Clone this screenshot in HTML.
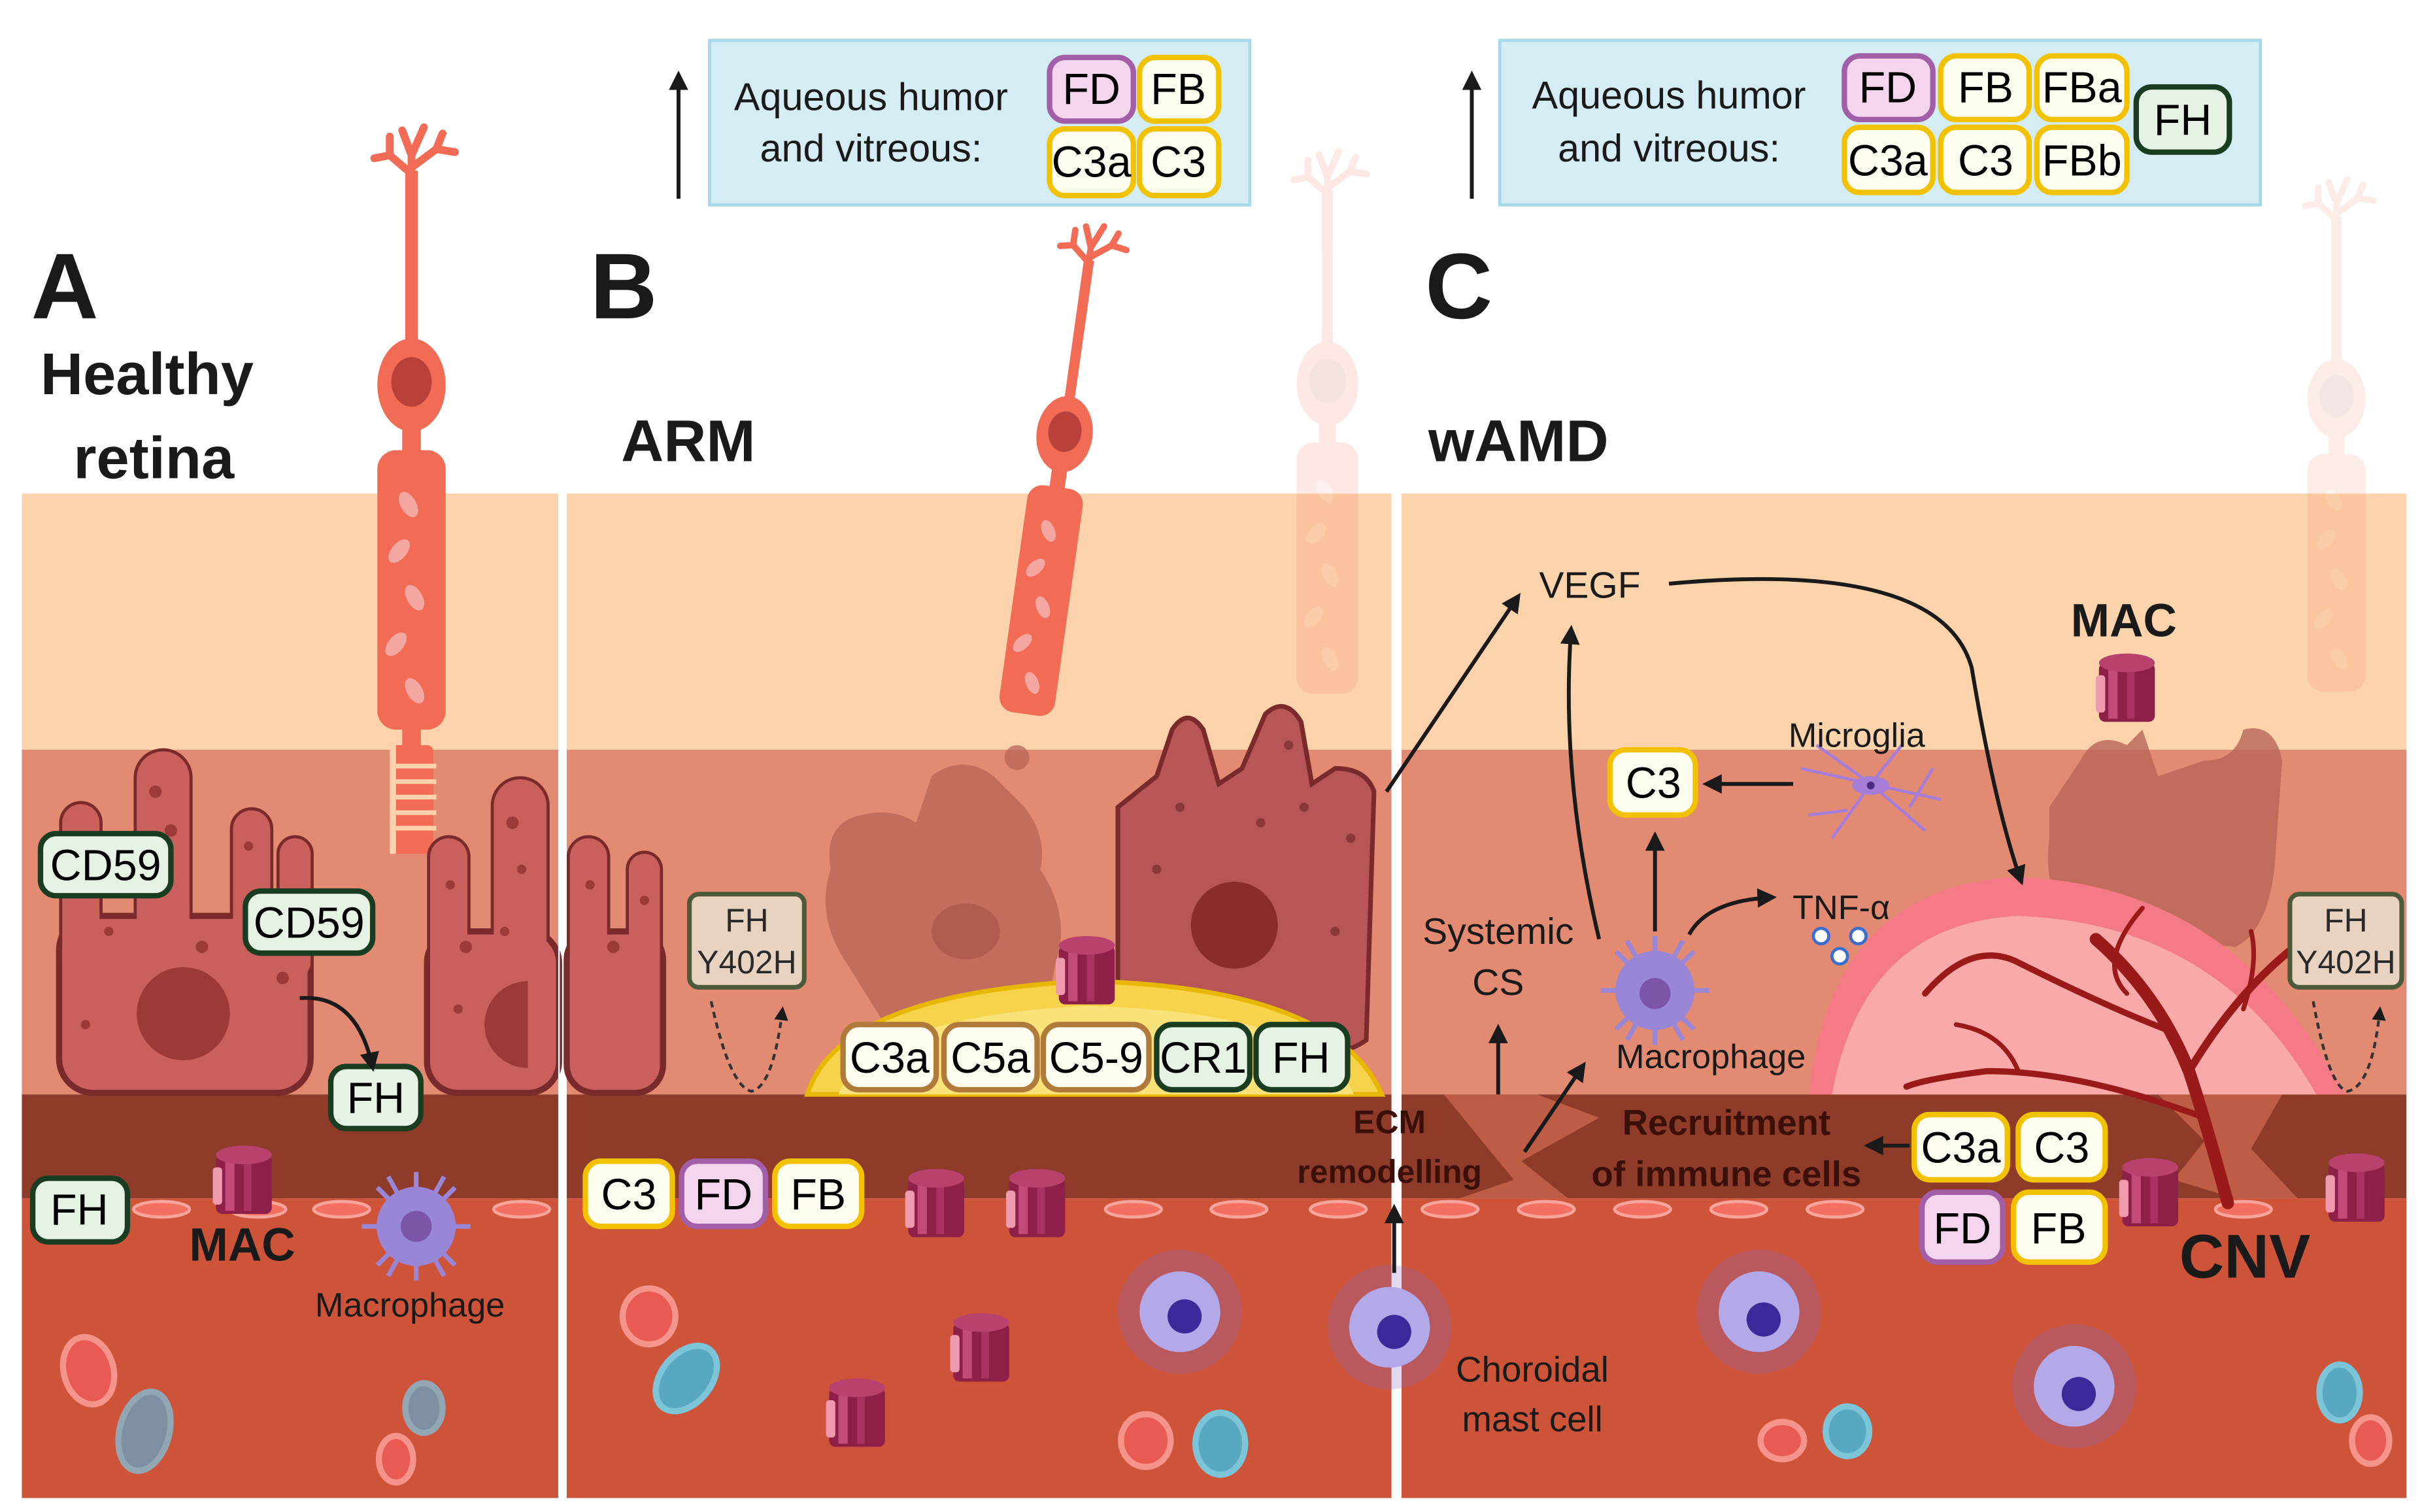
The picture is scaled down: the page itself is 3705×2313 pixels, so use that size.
<!DOCTYPE html>
<html><head><meta charset="utf-8"><style>html,body{margin:0;padding:0;background:#fff}svg{display:block}text{font-family:"Liberation Sans",sans-serif}</style></head>
<body>
<svg xmlns="http://www.w3.org/2000/svg" width="3705" height="2313" viewBox="0 0 1560 974">
<defs>
<marker id="ah" viewBox="0 0 10 10" refX="8" refY="5" markerWidth="5" markerHeight="5" orient="auto"><path d="M0,0 L10,5 L0,10 z" fill="#1a1a1a"/></marker>
<g id="mac">
<rect x="-18" y="-16" width="36" height="38" rx="4" fill="#8e1f48"/>
<rect x="-12" y="-14" width="6" height="34" fill="#c24a78"/>
<rect x="0" y="-14" width="5" height="34" fill="#a83363"/>
<rect x="-20" y="-8" width="6" height="24" rx="2" fill="#f09ab0"/>
<ellipse cx="0" cy="-16" rx="18" ry="6" fill="#b8416e"/>
</g>
<g id="phot">
<path d="M0,0 L0,-40 M0,-28 L-14,-40 M-14,-40 L-24,-38 M-14,-40 L-14,-52 M0,-40 L-6,-56 M0,-40 L8,-58 M0,-32 L16,-44 L28,-42 M16,-44 L20,-54" stroke="#f26b55" stroke-width="5" stroke-linecap="round" fill="none"/>
<rect x="-4" y="-30" width="8" height="110" fill="#f26b55"/>
<ellipse cx="0" cy="108" rx="22" ry="30" fill="#f26b55"/>
<ellipse cx="0" cy="106" rx="13" ry="16" fill="#b8413a"/>
<rect x="-6" y="130" width="12" height="25" fill="#f26b55"/>
<rect x="-22" y="150" width="44" height="180" rx="12" fill="#f26b55"/>
<g fill="#f4a6a0"><ellipse cx="-2" cy="185" rx="5" ry="9" transform="rotate(-30 -2 185)"/><ellipse cx="-8" cy="215" rx="5" ry="9" transform="rotate(40 -8 215)"/><ellipse cx="2" cy="245" rx="5" ry="9" transform="rotate(-30 2 245)"/><ellipse cx="-10" cy="275" rx="5" ry="9" transform="rotate(40 -10 275)"/><ellipse cx="2" cy="305" rx="5" ry="9" transform="rotate(-30 2 305)"/></g>
</g>
</defs>

<g>
<rect x="14" y="318" width="346" height="165" fill="#fcd3ab"/>
<rect x="14" y="483" width="346" height="222" fill="#e38b72"/>
<rect x="14" y="705" width="346" height="67" fill="#8f3b29"/>
<rect x="14" y="772" width="346" height="193" fill="#cd5339"/>
<rect x="365" y="318" width="532" height="165" fill="#fcd3ab"/>
<rect x="365" y="483" width="532" height="222" fill="#e38b72"/>
<rect x="365" y="705" width="532" height="67" fill="#8f3b29"/>
<rect x="365" y="772" width="532" height="193" fill="#cd5339"/>
<rect x="902" y="318" width="648" height="165" fill="#fcd3ab"/>
<rect x="902" y="483" width="648" height="222" fill="#e38b72"/>
<rect x="902" y="705" width="648" height="67" fill="#8f3b29"/>
<rect x="902" y="772" width="648" height="193" fill="#cd5339"/>
<path d="M930,705 L975,760 L940,772 L1010,772 L980,748 L1030,720 L990,705 Z" fill="#c8674c" opacity="0.8"/>
<path d="M1390,705 L1420,735 L1400,760 L1440,772 L1480,772 L1450,740 L1470,705 Z" fill="#c8674c" opacity="0.8"/>
</g>
<g fill="#f26f62" stroke="#f7a59b" stroke-width="2">
<ellipse cx="104" cy="779" rx="18" ry="5"/><ellipse cx="166" cy="779" rx="18" ry="5"/><ellipse cx="220" cy="779" rx="18" ry="5"/><ellipse cx="336" cy="779" rx="18" ry="5"/>
<ellipse cx="730" cy="779" rx="18" ry="5"/><ellipse cx="798" cy="779" rx="18" ry="5"/><ellipse cx="862" cy="779" rx="18" ry="5"/>
<ellipse cx="934" cy="779" rx="18" ry="5"/><ellipse cx="996" cy="779" rx="18" ry="5"/><ellipse cx="1058" cy="779" rx="18" ry="5"/><ellipse cx="1120" cy="779" rx="18" ry="5"/><ellipse cx="1182" cy="779" rx="18" ry="5"/><ellipse cx="1445" cy="779" rx="18" ry="5"/>
</g>

<rect x="457" y="26" width="348" height="106" fill="#d4ecf4" stroke="#a6d8ec" stroke-width="2"/>
<line x1="437" y1="128" x2="437" y2="48" stroke="#1a1a1a" stroke-width="2.5" marker-end="url(#ah)"/>
<text x="561" y="71" font-size="25" text-anchor="middle" fill="#1a1a1a">Aqueous humor</text>
<text x="561" y="104" font-size="25" text-anchor="middle" fill="#1a1a1a">and vitreous:</text>
<rect x="966" y="26" width="490" height="106" fill="#d4ecf4" stroke="#a6d8ec" stroke-width="2"/>
<line x1="948" y1="128" x2="948" y2="48" stroke="#1a1a1a" stroke-width="2.5" marker-end="url(#ah)"/>
<text x="1075" y="70" font-size="25" text-anchor="middle" fill="#1a1a1a">Aqueous humor</text>
<text x="1075" y="104" font-size="25" text-anchor="middle" fill="#1a1a1a">and vitreous:</text>

<text x="20" y="205" font-size="60" font-weight="bold" fill="#1a1a1a">A</text>
<text x="26" y="254" font-size="38" font-weight="bold" fill="#1a1a1a">Healthy</text>
<text x="99" y="308" font-size="38" font-weight="bold" fill="#1a1a1a" text-anchor="middle">retina</text>
<text x="380" y="205" font-size="60" font-weight="bold" fill="#1a1a1a">B</text>
<text x="400" y="297" font-size="38" font-weight="bold" fill="#1a1a1a">ARM</text>
<text x="918" y="205" font-size="60" font-weight="bold" fill="#1a1a1a">C</text>
<text x="920" y="297" font-size="38" font-weight="bold" fill="#1a1a1a">wAMD</text>

<use href="#phot" transform="translate(265,140)"/>
<g transform="translate(265,140)" fill="#f26b55"><rect x="-6" y="325" width="12" height="20"/><rect x="-14" y="340" width="28" height="70" rx="4"/></g>
<g fill="#fcd3ab"><rect x="255" y="492" width="26" height="3"/><rect x="255" y="502" width="26" height="3"/><rect x="255" y="512" width="26" height="3"/><rect x="255" y="522" width="26" height="3"/><rect x="255" y="532" width="26" height="3"/><rect x="251" y="480" width="4" height="70"/></g>
<use href="#phot" transform="translate(698,192) rotate(8) scale(0.82)"/>
<use href="#phot" transform="translate(855,150) scale(0.9)" opacity="0.15"/>
<use href="#phot" transform="translate(1505,165) scale(0.85)" opacity="0.13"/>

<g fill="#c9605e" stroke="#7a2a2a" stroke-width="4">
<rect x="40" y="518" width="24" height="110" rx="12"/><rect x="88" y="484" width="34" height="140" rx="17"/><rect x="150" y="522" width="24" height="100" rx="12"/><rect x="180" y="540" width="20" height="90" rx="10"/>
<rect x="38" y="590" width="162" height="114" rx="22"/>
<rect x="277" y="540" width="24" height="100" rx="12"/><rect x="318" y="502" width="34" height="130" rx="17"/>
<rect x="275" y="600" width="85" height="104" rx="20"/>
<rect x="367" y="540" width="24" height="90" rx="12"/><rect x="405" y="550" width="20" height="90" rx="10"/>
<rect x="365" y="600" width="62" height="104" rx="18"/>
</g>
<g fill="#c9605e">
<rect x="40" y="518" width="24" height="110" rx="12"/><rect x="88" y="484" width="34" height="140" rx="17"/><rect x="150" y="522" width="24" height="100" rx="12"/><rect x="180" y="540" width="20" height="90" rx="10"/>
<rect x="40" y="592" width="158" height="110" rx="20"/>
<rect x="277" y="540" width="24" height="100" rx="12"/><rect x="318" y="502" width="34" height="130" rx="17"/>
<rect x="277" y="602" width="81" height="100" rx="18"/>
<rect x="367" y="540" width="24" height="90" rx="12"/><rect x="405" y="550" width="20" height="90" rx="10"/>
<rect x="367" y="602" width="58" height="100" rx="16"/>
</g>
<g fill="#9c3a3a"><circle cx="118" cy="653" r="30"/><path d="M340,632 a28,28 0 0,0 0,56 z"/><circle cx="50" cy="540" r="4"/><circle cx="100" cy="510" r="4"/><circle cx="110" cy="535" r="4"/><circle cx="98" cy="560" r="4"/><circle cx="160" cy="545" r="3"/><circle cx="70" cy="600" r="3"/><circle cx="130" cy="610" r="4"/><circle cx="55" cy="660" r="3"/><circle cx="182" cy="630" r="4"/><circle cx="290" cy="570" r="3"/><circle cx="330" cy="530" r="4"/><circle cx="336" cy="560" r="3"/><circle cx="300" cy="610" r="4"/><circle cx="325" cy="600" r="3"/><circle cx="380" cy="570" r="3"/><circle cx="395" cy="610" r="4"/><circle cx="415" cy="580" r="3"/><circle cx="295" cy="650" r="3"/></g>
<line x1="360" y1="318" x2="360" y2="965" stroke="#fff" stroke-width="1"/>

<path d="M535,560 Q530,530 555,525 Q575,520 590,530 L600,500 Q620,485 640,500 L660,520 Q675,540 670,560 Q690,590 680,620 L672,660 Q620,680 570,660 L545,620 Q525,590 535,560 Z" fill="#b86457" opacity="0.75"/>
<circle cx="655" cy="488" r="8" fill="#b86457" opacity="0.75"/>
<ellipse cx="622" cy="600" rx="22" ry="18" fill="#9c4a40" opacity="0.5"/>
<path d="M720,520 L745,500 L755,470 Q765,455 775,470 L785,505 L800,495 L815,460 Q828,448 838,465 L845,505 L860,495 Q880,495 885,510 L880,670 Q860,685 800,680 L735,670 Q720,660 720,640 Z" fill="#b85657" stroke="#7a2a2a" stroke-width="3"/>
<circle cx="795" cy="596" r="28" fill="#8a2c2c"/>
<g fill="#8a3838"><circle cx="760" cy="520" r="3"/><circle cx="830" cy="480" r="3"/><circle cx="840" cy="520" r="3"/><circle cx="870" cy="540" r="3"/><circle cx="745" cy="560" r="3"/><circle cx="860" cy="600" r="3"/><circle cx="760" cy="640" r="3"/><circle cx="812" cy="530" r="3"/></g>
<path d="M520,705 Q540,640 700,632 Q860,636 890,705 Z" fill="#f6d34a" stroke="#e8b800" stroke-width="3"/>
<path d="M540,705 Q560,655 700,648 Q850,652 872,705 Z" fill="#f9e27a"/>
<use href="#mac" transform="translate(700,625)"/>
<line x1="897" y1="318" x2="897" y2="965" stroke="#fff" stroke-width="1.5"/>
<line x1="902" y1="318" x2="902" y2="965" stroke="#fff" stroke-width="1.5"/>

<path d="M1320,520 L1340,490 Q1350,470 1370,480 L1380,470 L1390,500 L1420,490 Q1440,490 1445,470 Q1465,465 1470,490 L1465,560 Q1460,600 1440,610 L1340,600 Q1315,580 1320,540 Z" fill="#b86457" opacity="0.8"/>
<use href="#mac" transform="translate(1370,443)"/>
<path d="M1165,705 Q1180,570 1300,565 Q1440,570 1510,705 Z" fill="#f47a85"/>
<path d="M1180,705 Q1200,595 1300,590 Q1430,595 1492,705 Z" fill="#f8a9a8"/>
<g stroke="#9a1a1a" fill="none" stroke-linecap="round">
<path d="M1435,775 Q1420,720 1410,690 Q1390,640 1350,605" stroke-width="8"/>
<path d="M1410,690 Q1440,640 1478,610" stroke-width="5"/>
<path d="M1400,665 Q1360,650 1300,620 Q1270,605 1240,640" stroke-width="4"/>
<path d="M1370,640 Q1350,620 1380,585" stroke-width="3"/>
<path d="M1420,720 Q1340,690 1280,690 Q1240,695 1228,700" stroke-width="4"/>
<path d="M1300,690 Q1290,665 1260,660" stroke-width="3"/>
<path d="M1445,650 Q1455,620 1450,600" stroke-width="3"/>
</g>

<use href="#mac" transform="translate(157,760)"/>
<use href="#mac" transform="translate(603,775)"/>
<use href="#mac" transform="translate(668,775)"/>
<use href="#mac" transform="translate(632,868)"/>
<use href="#mac" transform="translate(552,910)"/>
<use href="#mac" transform="translate(1385,768)"/>
<use href="#mac" transform="translate(1518,765)"/>

<g stroke-width="4">
<ellipse cx="57" cy="883" rx="16" ry="22" fill="#e85a52" stroke="#f4948a" transform="rotate(-15 57 883)"/>
<ellipse cx="255" cy="940" rx="11" ry="15" fill="#e85a52" stroke="#f4948a"/>
<ellipse cx="418" cy="848" rx="17" ry="18" fill="#e85a52" stroke="#f4948a"/>
<ellipse cx="738" cy="928" rx="16" ry="17" fill="#e85a52" stroke="#f4948a"/>
<ellipse cx="1148" cy="928" rx="14" ry="12" fill="#e85a52" stroke="#f4948a"/>
<ellipse cx="1527" cy="928" rx="12" ry="15" fill="#e85a52" stroke="#f4948a"/>
<ellipse cx="93" cy="922" rx="16" ry="26" fill="#7d8fa0" stroke="#93a6b4" transform="rotate(15 93 922)"/>
<ellipse cx="273" cy="907" rx="12" ry="16" fill="#7d8fa0" stroke="#93a6b4"/>
<ellipse cx="442" cy="888" rx="16" ry="24" fill="#58a8c0" stroke="#7cc4d8" transform="rotate(40 442 888)"/>
<ellipse cx="786" cy="930" rx="16" ry="20" fill="#58a8c0" stroke="#7cc4d8"/>
<ellipse cx="1190" cy="922" rx="14" ry="16" fill="#58a8c0" stroke="#7cc4d8"/>
<ellipse cx="1507" cy="897" rx="13" ry="18" fill="#58a8c0" stroke="#7cc4d8"/>
</g>
<g fill="#9a86d6" stroke="#9a86d6" stroke-width="3">
<circle cx="268" cy="790" r="24"/>
<path d="M268,755 L268,825 M233,790 L303,790 M243,765 L293,815 M293,765 L243,815 M250,758 L286,822 M286,758 L250,822" />
<circle cx="1066" cy="638" r="24"/>
<path d="M1066,603 L1066,673 M1031,638 L1101,638 M1041,613 L1091,663 M1091,613 L1041,663 M1048,606 L1084,670 M1084,606 L1048,670"/>
</g>
<circle cx="268" cy="790" r="10" fill="#7a55a8"/>
<circle cx="1066" cy="640" r="10" fill="#7a55a8"/>
<g>
<circle cx="760" cy="845" r="40" fill="#7f6acc" opacity="0.25"/><circle cx="760" cy="845" r="26" fill="#b3a8e8"/><circle cx="763" cy="848" r="11" fill="#3d2a9a"/>
<circle cx="895" cy="855" r="40" fill="#7f6acc" opacity="0.25"/><circle cx="895" cy="855" r="26" fill="#b3a8e8"/><circle cx="898" cy="858" r="11" fill="#3d2a9a"/>
<circle cx="1133" cy="845" r="40" fill="#7f6acc" opacity="0.25"/><circle cx="1133" cy="845" r="26" fill="#b3a8e8"/><circle cx="1136" cy="850" r="11" fill="#3d2a9a"/>
<circle cx="1336" cy="893" r="40" fill="#7f6acc" opacity="0.25"/><circle cx="1336" cy="893" r="26" fill="#b3a8e8"/><circle cx="1339" cy="898" r="11" fill="#3d2a9a"/>
</g>
<g stroke="#a67ed8" stroke-width="2" fill="none">
<path d="M1160,495 L1250,515 M1205,505 L1180,540 M1205,505 L1225,480 M1205,505 L1240,535 M1205,505 L1170,480 M1230,520 L1245,495 M1190,522 L1165,525"/>
</g>
<ellipse cx="1205" cy="506" rx="12" ry="6" fill="#a67ed8"/>
<circle cx="1205" cy="506" r="2.5" fill="#4b2a80"/>
<g fill="#fff" stroke="#3a6fd0" stroke-width="2"><circle cx="1173" cy="603" r="5"/><circle cx="1197" cy="603" r="5"/><circle cx="1185" cy="616" r="5"/></g>

<g stroke-width="3.5" font-size="28" text-anchor="middle">
<rect x="676" y="37" width="54" height="41" rx="10" fill="#f5d5ee" stroke="#a25fa8"/><text x="703" y="67">FD</text>
<rect x="734" y="37" width="51" height="41" rx="10" fill="#fffdf0" stroke="#f2c200"/><text x="759" y="67">FB</text>
<rect x="676" y="83" width="54" height="43" rx="10" fill="#fffdf0" stroke="#f2c200"/><text x="703" y="114">C3a</text>
<rect x="734" y="83" width="51" height="43" rx="10" fill="#fffdf0" stroke="#f2c200"/><text x="759" y="114">C3</text>
<rect x="1188" y="36" width="57" height="41" rx="10" fill="#f5d5ee" stroke="#a25fa8"/><text x="1216" y="66">FD</text>
<rect x="1250" y="36" width="57" height="41" rx="10" fill="#fffdf0" stroke="#f2c200"/><text x="1279" y="66">FB</text>
<rect x="1312" y="36" width="58" height="41" rx="10" fill="#fffdf0" stroke="#f2c200"/><text x="1341" y="66">FBa</text>
<rect x="1188" y="82" width="57" height="42" rx="10" fill="#fffdf0" stroke="#f2c200"/><text x="1216" y="113">C3a</text>
<rect x="1250" y="82" width="57" height="42" rx="10" fill="#fffdf0" stroke="#f2c200"/><text x="1279" y="113">C3</text>
<rect x="1312" y="82" width="58" height="42" rx="10" fill="#fffdf0" stroke="#f2c200"/><text x="1341" y="113">FBb</text>
<rect x="1376" y="56" width="60" height="42" rx="10" fill="#e6f2e4" stroke="#1a3d22"/><text x="1406" y="87">FH</text>
<rect x="26" y="537" width="84" height="40" rx="10" fill="#e6f2e4" stroke="#1a3d22"/><text x="68" y="567">CD59</text>
<rect x="158" y="574" width="82" height="40" rx="10" fill="#e6f2e4" stroke="#1a3d22"/><text x="199" y="604">CD59</text>
<rect x="213" y="687" width="58" height="40" rx="10" fill="#e6f2e4" stroke="#1a3d22"/><text x="242" y="717">FH</text>
<rect x="21" y="759" width="61" height="41" rx="10" fill="#e6f2e4" stroke="#1a3d22"/><text x="51" y="789">FH</text>
<rect x="377" y="748" width="56" height="42" rx="10" fill="#fffdf0" stroke="#f2c200"/><text x="405" y="779">C3</text>
<rect x="439" y="748" width="54" height="42" rx="10" fill="#f5d5ee" stroke="#a25fa8"/><text x="466" y="779">FD</text>
<rect x="499" y="748" width="56" height="42" rx="10" fill="#fffdf0" stroke="#f2c200"/><text x="527" y="779">FB</text>
<rect x="543" y="660" width="60" height="42" rx="10" fill="#fffdf0" stroke="#b07a3a"/><text x="573" y="691">C3a</text>
<rect x="608" y="660" width="60" height="42" rx="10" fill="#fffdf0" stroke="#b07a3a"/><text x="638" y="691">C5a</text>
<rect x="672" y="660" width="68" height="42" rx="10" fill="#fffdf0" stroke="#b07a3a"/><text x="706" y="691">C5-9</text>
<rect x="745" y="660" width="60" height="42" rx="10" fill="#e6f2e4" stroke="#1a3d22"/><text x="775" y="691">CR1</text>
<rect x="809" y="660" width="59" height="42" rx="10" fill="#e6f2e4" stroke="#1a3d22"/><text x="838" y="691">FH</text>
<rect x="1037" y="483" width="55" height="42" rx="10" fill="#fffdf0" stroke="#f2c200"/><text x="1065" y="514">C3</text>
<rect x="1233" y="718" width="60" height="42" rx="10" fill="#fffdf0" stroke="#f2c200"/><text x="1263" y="749">C3a</text>
<rect x="1300" y="718" width="56" height="42" rx="10" fill="#fffdf0" stroke="#f2c200"/><text x="1328" y="749">C3</text>
<rect x="1238" y="768" width="52" height="45" rx="10" fill="#f5d5ee" stroke="#a25fa8"/><text x="1264" y="801">FD</text>
<rect x="1297" y="768" width="59" height="45" rx="10" fill="#fffdf0" stroke="#f2c200"/><text x="1326" y="801">FB</text>
</g>
<g stroke-width="3" font-size="21" text-anchor="middle" fill="#2a2a2a">
<rect x="444" y="576" width="74" height="60" rx="6" fill="#e8d3c0" stroke="#4d5a3a"/>
<text x="481" y="600" fill="#2a2a2a">FH</text><text x="481" y="627" fill="#2a2a2a">Y402H</text>
<rect x="1475" y="576" width="72" height="60" rx="6" fill="#e8d3c0" stroke="#4d5a3a"/>
<text x="1511" y="600" fill="#2a2a2a">FH</text><text x="1511" y="627" fill="#2a2a2a">Y402H</text>
</g>
<g stroke="#333" stroke-width="1.8" fill="none" stroke-dasharray="4,3">
<path d="M458,645 Q470,700 484,703 Q498,700 504,650" marker-end="url(#ah)"/>
<path d="M1490,645 Q1500,700 1512,703 Q1528,700 1533,650" marker-end="url(#ah)"/>
</g>

<g stroke="#1a1a1a" stroke-width="2.5" fill="none" marker-end="url(#ah)">
<path d="M193,643 Q230,640 240,688"/>
<path d="M893,510 L978,384"/>
<path d="M1030,605 Q1005,500 1012,405"/>
<path d="M1075,376 Q1250,360 1270,430 Q1285,520 1302,568"/>
<path d="M1155,505 L1099,505"/>
<path d="M1066,600 L1066,538"/>
<path d="M1088,602 Q1100,580 1142,578"/>
<path d="M965,705 L965,662"/>
<path d="M982,742 L1020,686"/>
<path d="M1230,738 L1203,738"/>
<path d="M898,820 L898,778"/>
</g>

<g fill="#1a1a1a" text-anchor="middle">
<text x="156" y="812" font-size="30" font-weight="bold">MAC</text>
<text x="264" y="848" font-size="22">Macrophage</text>
<text x="1024" y="385" font-size="24">VEGF</text>
<text x="1368" y="410" font-size="30" font-weight="bold">MAC</text>
<text x="1196" y="481" font-size="22">Microglia</text>
<text x="1186" y="592" font-size="22">TNF-α</text>
<text x="965" y="608" font-size="24">Systemic</text>
<text x="965" y="641" font-size="24">CS</text>
<text x="1102" y="688" font-size="22">Macrophage</text>
<text x="895" y="730" font-size="21" font-weight="bold" fill="#3a1008">ECM</text>
<text x="895" y="762" font-size="21" font-weight="bold" fill="#3a1008">remodelling</text>
<text x="1112" y="731" font-size="23" font-weight="bold" fill="#3a1008">Recruitment</text>
<text x="1112" y="764" font-size="23" font-weight="bold" fill="#3a1008">of immune cells</text>
<text x="1446" y="823" font-size="40" font-weight="bold">CNV</text>
<text x="987" y="890" font-size="23">Choroidal</text>
<text x="987" y="922" font-size="23">mast cell</text>
</g>
</svg>
</body></html>
